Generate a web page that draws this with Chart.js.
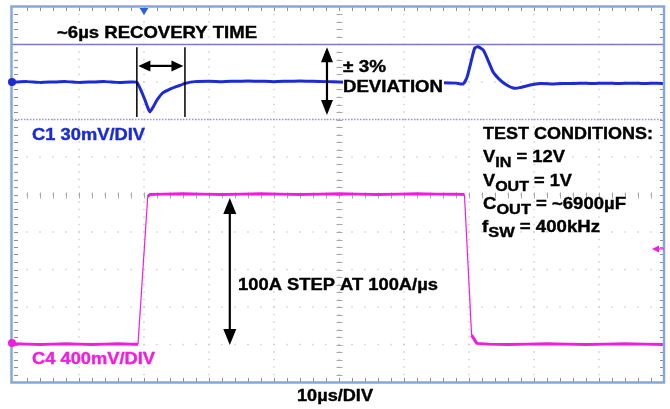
<!DOCTYPE html>
<html>
<head>
<meta charset="utf-8">
<script src="https://cdn.jsdelivr.net/npm/chart.js@4.4.1/dist/chart.umd.min.js"></script>
<style>
  html, body { margin: 0; padding: 0; background: #fff; }
  #scope { display: block; }
</style>
</head>
<body>
<canvas id="scope" width="670" height="409"></canvas>
<script>
// time in µs (10µs/DIV over 10 divisions), vertical position in divisions from the bottom

// C1: output voltage, 30mV/DIV
const c1Time = [0, 2, 4, 6, 8, 10, 12, 14, 16, 18, 18.9, 19.5, 20.15, 20.6, 20.9, 21.4, 22.0, 22.9, 24.0,
  25.2, 26.5, 27.8, 30, 32, 34, 36, 38, 40, 42, 44, 46, 48, 50, 52, 54, 56, 58, 60, 62, 64, 66, 68,
  69.1, 69.7, 70.5, 70.9, 71.4, 72.2, 72.9, 73.7, 74.8, 75.8, 76.8, 77.8, 79.4, 80.9, 83, 85, 87, 89,
  91, 93, 95, 97, 99, 100];
const c1Divs = [8.00, 8.01, 7.99, 8.00, 8.01, 7.99, 8.00, 8.01, 7.99, 8.00, 7.99, 7.79, 7.52, 7.31, 7.20,
  7.33, 7.52, 7.71, 7.81, 7.89, 7.97, 8.01, 8.02, 8.01, 8.02, 8.03, 8.02, 8.01, 8.02, 8.03, 8.02, 8.01,
  8.00, 7.99, 7.99, 7.98, 7.99, 7.98, 7.99, 7.98, 7.98, 7.97, 7.95, 8.13, 8.67, 8.91, 8.94, 8.85, 8.59,
  8.27, 8.05, 7.92, 7.84, 7.85, 7.92, 7.96, 7.95, 7.96, 7.97, 7.96, 7.97, 7.96, 7.97, 7.96, 7.97, 7.96];

// C4: load current, 400mV/DIV (100A step)
const c4Time = [0, 2, 4, 6, 8, 10, 12, 14, 16, 18, 19.08, 20.57, 20.9, 23, 26, 29, 32, 35, 38, 41, 44,
  47, 50, 53, 56, 59, 62, 65, 68, 69.3, 70.4, 71.2, 73, 76, 79, 82, 85, 88, 91, 94, 97, 100];
const c4Divs = [1.02, 1.01, 1.00, 1.01, 1.02, 1.01, 1.00, 1.01, 1.02, 1.01, 1.01, 4.94, 5.00, 5.01, 5.02,
  5.01, 5.00, 5.01, 5.02, 5.01, 5.00, 5.01, 5.02, 5.01, 5.00, 5.01, 5.02, 5.01, 5.01, 5.00, 1.25, 1.03,
  1.01, 1.00, 1.01, 1.02, 1.01, 1.00, 1.01, 1.02, 1.01, 1.00];

// cursors and markers, same units
const bandDivs = [9, 7];              // ±3% limits (solid / dotted)
const recoveryCursors = [18.9, 26.3]; // ~6µs recovery window
const triggerTime = 20;

const MAIN_FONT = 'bold 17px "Liberation Sans", Arial, sans-serif';
const SUB_FONT = 'bold 15px "Liberation Sans", Arial, sans-serif';

function toPoints(xs, ys) {
  return xs.map((x, i) => ({ x: x, y: ys[i] }));
}

// draws a row of text (optionally with subscripts), stretched to the given width
function fitText(ctx, parts, x, y, width, color) {
  ctx.save();
  ctx.fillStyle = color;
  ctx.strokeStyle = color;
  ctx.lineWidth = 0.4;
  ctx.textBaseline = "alphabetic";
  let natural = 0;
  for (const [t, sub] of parts) {
    ctx.font = sub ? SUB_FONT : MAIN_FONT;
    natural += ctx.measureText(t).width;
  }
  ctx.translate(x, y);
  ctx.scale(width / natural, 1);
  let cx = 0;
  for (const [t, sub] of parts) {
    ctx.font = sub ? SUB_FONT : MAIN_FONT;
    ctx.fillText(t, cx, sub ? 5 : 0);
    ctx.strokeText(t, cx, sub ? 5 : 0);
    cx += ctx.measureText(t).width;
  }
  ctx.restore();
}

function arrowHead(ctx, tipX, tipY, dirX, dirY, len, half) {
  const nx = -dirY, ny = dirX;
  const bx = tipX - dirX * len, by = tipY - dirY * len;
  ctx.beginPath();
  ctx.moveTo(tipX, tipY);
  ctx.lineTo(bx + nx * half, by + ny * half);
  ctx.lineTo(bx - nx * half, by - ny * half);
  ctx.closePath();
  ctx.fill();
}

function doubleArrow(ctx, x1, y1, x2, y2, len, half, width) {
  const d = Math.hypot(x2 - x1, y2 - y1);
  const ux = (x2 - x1) / d, uy = (y2 - y1) / d;
  ctx.save();
  ctx.strokeStyle = "#000";
  ctx.fillStyle = "#000";
  ctx.lineWidth = width;
  ctx.beginPath();
  ctx.moveTo(x1 + ux * len * 0.8, y1 + uy * len * 0.8);
  ctx.lineTo(x2 - ux * len * 0.8, y2 - uy * len * 0.8);
  ctx.stroke();
  arrowHead(ctx, x1, y1, -ux, -uy, len, half);
  arrowHead(ctx, x2, y2, ux, uy, len, half);
  ctx.restore();
}

// graticule: dotted grid, centre cross with ticks, edge ticks
const graticulePlugin = {
  id: "graticule",
  beforeDatasetsDraw(chart) {
    const ctx = chart.ctx;
    const xs = chart.scales.x, ys = chart.scales.y;
    const { left, right, top, bottom } = chart.chartArea;
    ctx.save();

    ctx.fillStyle = "#cacaca";
    for (let d = 1; d < 10; d++) {
      const py = ys.getPixelForValue(d);
      for (let m = 1; m < 50; m++) {
        ctx.fillRect(xs.getPixelForValue(m * 2) - 0.7, py - 0.7, 1.4, 1.4);
      }
      const px = xs.getPixelForValue(d * 10);
      for (let m = 1; m < 50; m++) {
        ctx.fillRect(px - 0.7, ys.getPixelForValue(m * 0.2) - 0.7, 1.4, 1.4);
      }
    }

    // centre cross ticks
    ctx.strokeStyle = "#a8a8a8";
    ctx.lineWidth = 1;
    const cx = Math.round(xs.getPixelForValue(50)) + 0.5;
    const cy = Math.round(ys.getPixelForValue(5)) + 0.5;
    ctx.beginPath();
    for (let m = 1; m < 50; m++) {
      const py = Math.round(ys.getPixelForValue(m * 0.2)) + 0.5;
      ctx.moveTo(cx - 3, py); ctx.lineTo(cx + 3, py);
      const px = Math.round(xs.getPixelForValue(m * 2)) + 0.5;
      ctx.moveTo(px, cy - 3); ctx.lineTo(px, cy + 3);
    }
    ctx.stroke();

    // edge ticks
    ctx.strokeStyle = "#8e8e8e";
    ctx.beginPath();
    for (let m = 1; m < 50; m++) {
      const px = Math.round(xs.getPixelForValue(m * 2)) + 0.5;
      ctx.moveTo(px, top); ctx.lineTo(px, top + 4);
      ctx.moveTo(px, bottom); ctx.lineTo(px, bottom - 4);
      const py = Math.round(ys.getPixelForValue(m * 0.2)) + 0.5;
      ctx.moveTo(left, py); ctx.lineTo(left + 4, py);
      ctx.moveTo(right, py); ctx.lineTo(right - 4, py);
    }
    ctx.stroke();

    // ±3% band cursors
    ctx.strokeStyle = "#7f79cc";
    ctx.lineWidth = 1.5;
    let py = ys.getPixelForValue(bandDivs[0]);
    ctx.beginPath(); ctx.moveTo(left - 2, py); ctx.lineTo(right, py); ctx.stroke();
    ctx.strokeStyle = "#9a95d8";
    ctx.setLineDash([1.5, 1.5]);
    py = ys.getPixelForValue(bandDivs[1]);
    ctx.beginPath(); ctx.moveTo(left - 2, py); ctx.lineTo(right, py); ctx.stroke();
    ctx.restore();
  }
};

// annotations, labels, channel markers and frame
const overlayPlugin = {
  id: "overlay",
  afterDatasetsDraw(chart) {
    const ctx = chart.ctx;
    const xs = chart.scales.x, ys = chart.scales.y;
    const { left, right, top, bottom } = chart.chartArea;
    ctx.save();

    // recovery time cursors
    ctx.strokeStyle = "#000";
    ctx.lineWidth = 1.5;
    const ra = xs.getPixelForValue(recoveryCursors[0]);
    const rb = xs.getPixelForValue(recoveryCursors[1]);
    ctx.beginPath();
    ctx.moveTo(ra, ys.getPixelForValue(8.93)); ctx.lineTo(ra, ys.getPixelForValue(7.07));
    ctx.moveTo(rb, ys.getPixelForValue(8.93)); ctx.lineTo(rb, ys.getPixelForValue(7.07));
    ctx.stroke();
    const ry = ys.getPixelForValue(8.43);
    doubleArrow(ctx, ra + 1.5, ry, rb - 1.5, ry, 12, 5.5, 2.2);

    // deviation arrow
    const dx = xs.getPixelForValue(48.15);
    doubleArrow(ctx, dx, ys.getPixelForValue(8.93), dx, ys.getPixelForValue(7.12), 15, 6, 2.2);

    // load step arrow
    const sx = xs.getPixelForValue(33.2);
    doubleArrow(ctx, sx, ys.getPixelForValue(4.91), sx, ys.getPixelForValue(0.99), 16, 6.5, 2.2);

    // labels
    fitText(ctx, [["~6µs RECOVERY TIME"]], 57, 38, 200, "#000");
    fitText(ctx, [["± 3%"]], 343, 72, 43, "#000");
    ctx.fillStyle = "#fff";
    ctx.fillRect(343, 78, 101, 16);
    fitText(ctx, [["DEVIATION"]], 343, 92, 100, "#000");
    fitText(ctx, [["C1 30mV/DIV"]], 32, 140, 113, "#1c2bd2");
    fitText(ctx, [["TEST CONDITIONS:"]], 483, 139, 170, "#000");
    fitText(ctx, [["V"], ["IN", true], [" = 12V"]], 483, 162, 82, "#000");
    fitText(ctx, [["V"], ["OUT", true], [" = 1V"]], 483, 186, 89, "#000");
    fitText(ctx, [["C"], ["OUT", true], [" = ~6900µF"]], 483, 209, 143, "#000");
    fitText(ctx, [["f"], ["SW", true], [" = 400kHz"]], 482, 232, 118, "#000");
    fitText(ctx, [["100A STEP AT 100A/µs"]], 238, 290, 200, "#000");
    fitText(ctx, [["C4 400mV/DIV"]], 32, 364, 123, "#f01edc");
    fitText(ctx, [["10µs/DIV"]], 297, 401, 76, "#000");

    // frame
    ctx.strokeStyle = "#86a8d8";
    ctx.lineWidth = 2.5;
    ctx.strokeRect(left - 2.5, top - 0.5, right - left + 2.5, bottom - top + 1);

    // trigger position marker
    const tx = xs.getPixelForValue(triggerTime);
    ctx.fillStyle = "#2f5fd6";
    ctx.beginPath();
    ctx.moveTo(tx - 4.5, top + 1); ctx.lineTo(tx + 4.5, top + 1); ctx.lineTo(tx, top + 8);
    ctx.closePath(); ctx.fill();

    // channel ground markers
    ctx.fillStyle = "#1c2bd2";
    ctx.beginPath(); ctx.arc(left - 2, ys.getPixelForValue(8.0), 4, 0, Math.PI * 2); ctx.fill();
    ctx.fillStyle = "#f01edc";
    ctx.beginPath(); ctx.arc(left - 2, ys.getPixelForValue(1.04), 4, 0, Math.PI * 2); ctx.fill();

    // C4 trigger level arrow on the right edge
    const ly = ys.getPixelForValue(3.55);
    ctx.strokeStyle = "#f01edc";
    ctx.lineWidth = 1.2;
    ctx.beginPath(); ctx.moveTo(right - 6, ly); ctx.lineTo(right, ly); ctx.stroke();
    ctx.fillStyle = "#f01edc";
    arrowHead(ctx, right - 12, ly, -1, 0, 7, 3.5);
    ctx.restore();
  }
};

new Chart(document.getElementById("scope"), {
  type: "line",
  data: {
    datasets: [
      {
        label: "C4 400mV/DIV",
        data: toPoints(c4Time, c4Divs),
        borderColor: "#f01edc",
        borderWidth: 3,
        borderJoinStyle: "round",
        pointRadius: 0,
        tension: 0,
        segment: {
          borderWidth: s => Math.abs(s.p1.parsed.y - s.p0.parsed.y) > 0.5 ? 1.2 : 3
        }
      },
      {
        label: "C1 30mV/DIV",
        data: toPoints(c1Time, c1Divs),
        borderColor: "#1c2bd2",
        borderWidth: 3,
        borderJoinStyle: "round",
        pointRadius: 0,
        tension: 0.2
      }
    ]
  },
  options: {
    responsive: false,
    animation: false,
    devicePixelRatio: 1,
    events: [],
    layout: { padding: { left: 14, top: 7, right: 6, bottom: 27 } },
    scales: {
      x: { type: "linear", min: 0, max: 100, display: false },
      y: { type: "linear", min: 0, max: 10, display: false }
    },
    plugins: {
      legend: { display: false },
      tooltip: { enabled: false }
    }
  },
  plugins: [graticulePlugin, overlayPlugin]
});
</script>
</body>
</html>
